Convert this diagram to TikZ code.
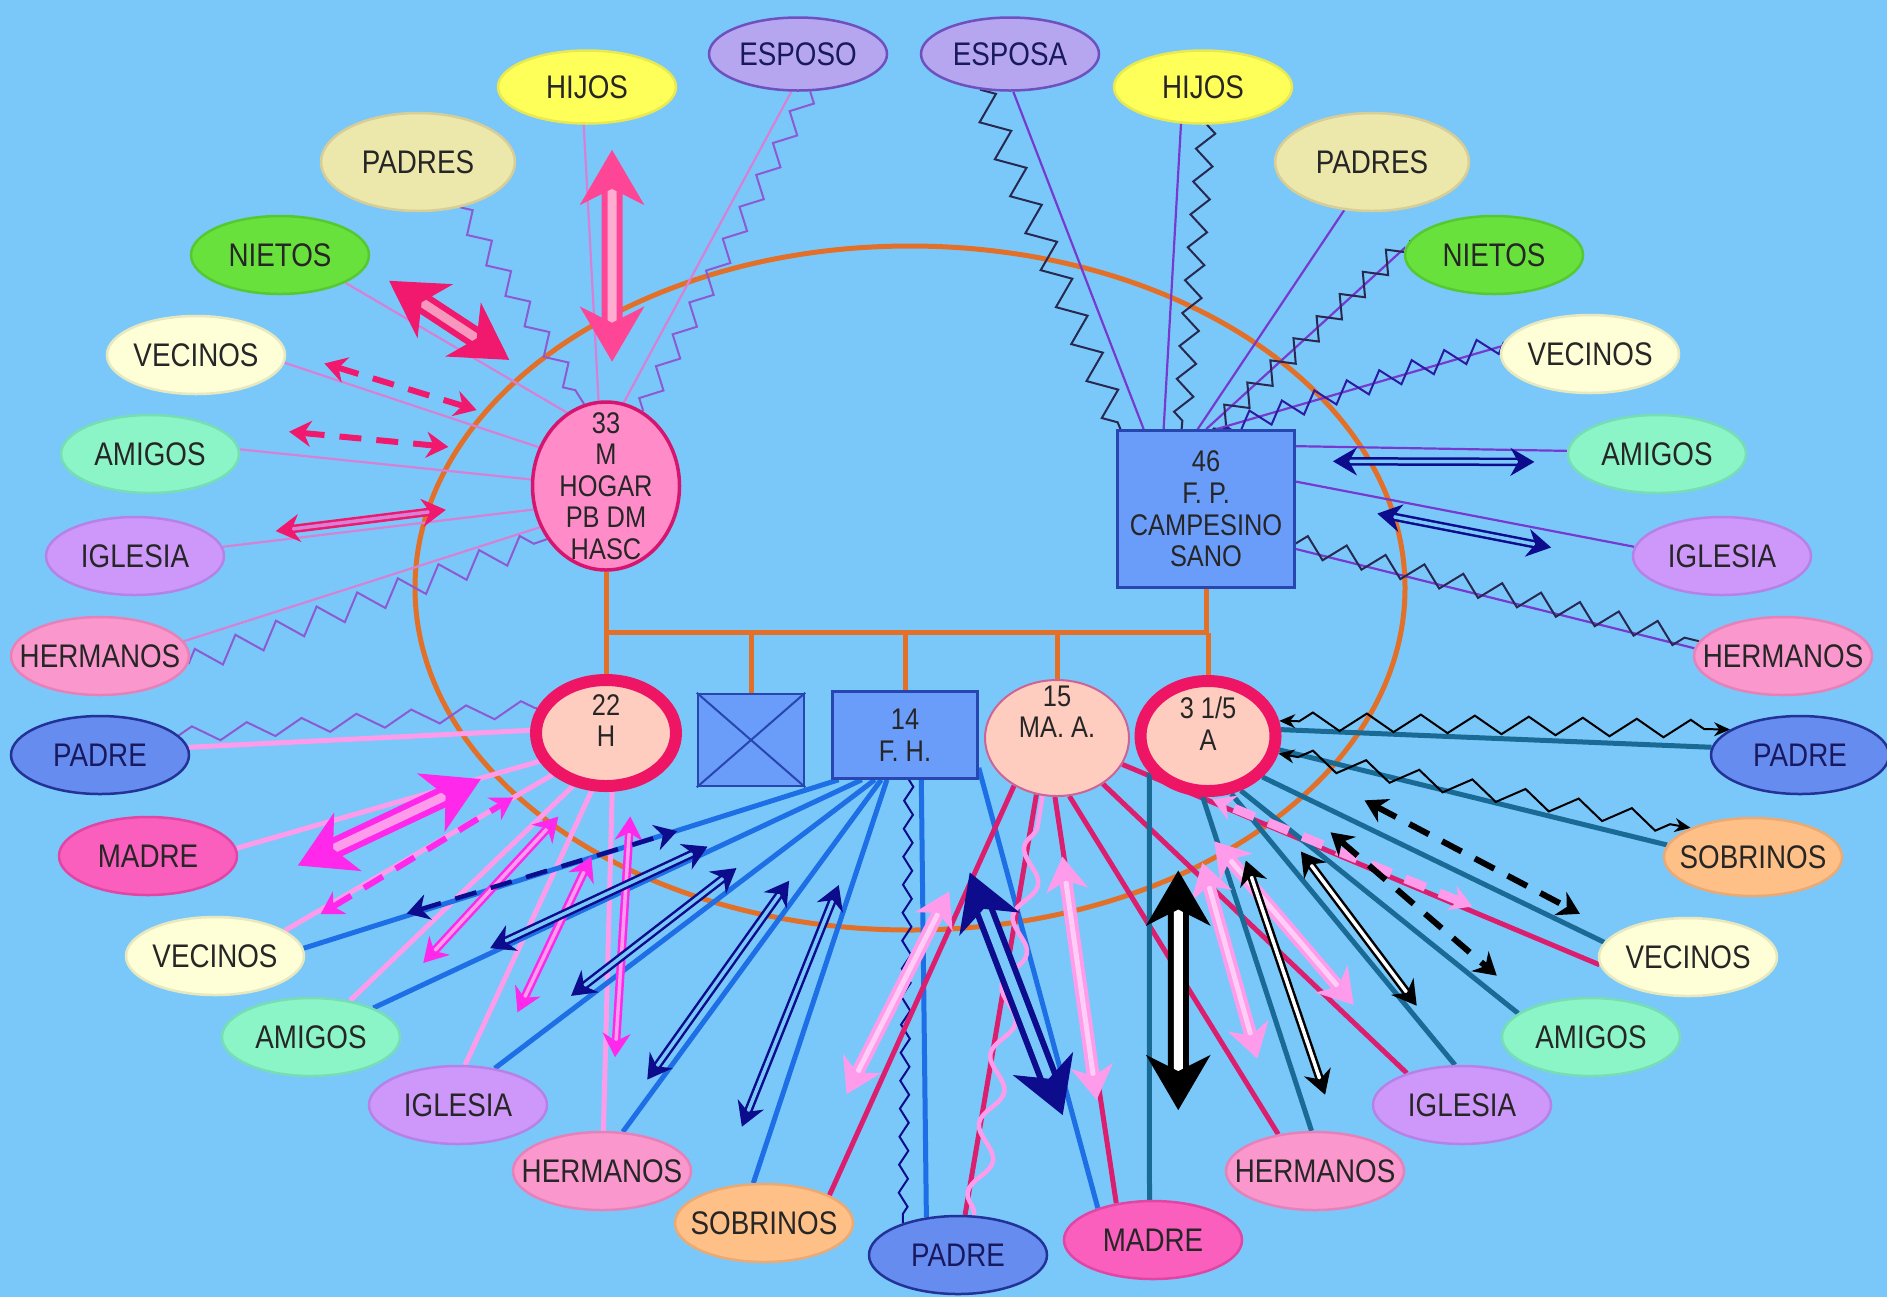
\documentclass[tikz,border=0pt]{standalone}
\usepackage{fontspec}
\usetikzlibrary{shapes.geometric,arrows.meta,calc,decorations.pathmorphing}
\newfontfamily\lbl{Liberation Sans}[FakeStretch=0.85]

\pgfdeclarelayer{fondo}
\pgfdeclarelayer{lazos}
\pgfsetlayers{fondo,lazos,main}

\definecolor{fondoC}{RGB}{122,200,250}
\definecolor{anillo}{RGB}{226,112,40}
\definecolor{azulT}{RGB}{25,25,95}
\definecolor{cEsp}{RGB}{182,166,240}\definecolor{cEspB}{RGB}{110,80,190}
\definecolor{cHij}{RGB}{255,255,90}\definecolor{cHijB}{RGB}{232,232,80}
\definecolor{cPad}{RGB}{236,231,170}\definecolor{cPadB}{RGB}{215,205,150}
\definecolor{cNie}{RGB}{105,225,60}\definecolor{cNieB}{RGB}{85,200,50}
\definecolor{cVec}{RGB}{255,255,215}\definecolor{cVecB}{RGB}{232,232,190}
\definecolor{cAmi}{RGB}{140,245,200}\definecolor{cAmiB}{RGB}{118,222,180}
\definecolor{cIgl}{RGB}{206,152,250}\definecolor{cIglB}{RGB}{182,130,232}
\definecolor{cHer}{RGB}{250,152,205}\definecolor{cHerB}{RGB}{230,130,185}
\definecolor{cPdr}{RGB}{102,140,240}\definecolor{cPdrB}{RGB}{35,50,150}
\definecolor{cMad}{RGB}{250,95,190}\definecolor{cMadB}{RGB}{225,70,165}
\definecolor{cSob}{RGB}{255,192,135}\definecolor{cSobB}{RGB}{235,170,115}
\definecolor{cCaja}{RGB}{106,156,249}\definecolor{cCajaB}{RGB}{40,70,175}
\definecolor{cRosa}{RGB}{255,140,200}\definecolor{cRosaB}{RGB}{215,20,110}
\definecolor{cPiel}{RGB}{255,205,192}\definecolor{cPielB}{RGB}{205,100,150}
\definecolor{cRojo}{RGB}{238,22,100}
\definecolor{l33}{RGB}{214,128,214}
\definecolor{z33}{RGB}{140,90,210}
\definecolor{f33}{RGB}{240,25,110}
\definecolor{f33h}{RGB}{255,70,150}
\definecolor{l46}{RGB}{118,58,208}
\definecolor{z46}{RGB}{40,40,80}
\definecolor{azulO}{RGB}{12,12,140}
\definecolor{l22}{RGB}{255,155,235}
\definecolor{f22}{RGB}{255,40,235}
\definecolor{l14}{RGB}{30,110,230}
\definecolor{l15}{RGB}{220,30,110}
\definecolor{f15}{RGB}{255,155,235}
\definecolor{l31}{RGB}{26,106,150}

\begin{document}
\begin{tikzpicture}[x=0.1mm,y=-0.1mm]
        \tikzstyle{ent}=[ellipse, minimum width=17.8mm, minimum height=7.8mm, inner xsep=-3mm, inner ysep=0pt, line width=0.25mm, text=black!85, font=\lbl\fontsize{9.3}{10}\selectfont]
        \tikzstyle{esposo}=[ent, fill=cEsp, draw=cEspB, text=azulT, minimum height=7.3mm]
        \tikzstyle{hijos}=[ent, fill=cHij, draw=cHijB, minimum height=7.3mm]
        \tikzstyle{padres}=[ent, fill=cPad, draw=cPadB, minimum width=19.4mm, minimum height=9.8mm]
        \tikzstyle{nietos}=[ent, fill=cNie, draw=cNieB]
        \tikzstyle{vecinos}=[ent, fill=cVec, draw=cVecB]
        \tikzstyle{amigos}=[ent, fill=cAmi, draw=cAmiB]
        \tikzstyle{iglesia}=[ent, fill=cIgl, draw=cIglB]
        \tikzstyle{hermanos}=[ent, fill=cHer, draw=cHerB]
        \tikzstyle{padre}=[ent, fill=cPdr, draw=cPdrB, text=azulT]
        \tikzstyle{madre}=[ent, fill=cMad, draw=cMadB]
        \tikzstyle{sobrinos}=[ent, fill=cSob, draw=cSobB]
        \tikzstyle{centro}=[inner sep=0pt, align=center, text=black!85, font=\lbl\fontsize{8.5}{9}\selectfont]
        \tikzstyle{hijoR}=[centro, ellipse, minimum width=14mm, minimum height=10.6mm, inner ysep=-2.5mm, fill=cPiel, draw=cRojo, line width=1.2mm]
        \tikzstyle{caja}=[centro, rectangle, fill=cCaja, draw=cCajaB, line width=0.25mm]
        \tikzstyle{arbol}=[anillo, line width=0.5mm]
        \tikzstyle{lazo}=[line width=0.22mm]
        \tikzstyle{lazoG}=[line width=0.5mm]
        \tikzstyle{zig}=[line width=0.2mm, decorate, decoration={zigzag, amplitude=0.9mm, segment length=3.6mm}]
        \tikzstyle{zigF}=[black, line width=0.2mm, decorate, decoration={zigzag, amplitude=0.9mm, segment length=5.4mm, pre length=2mm, post length=2mm}, {Stealth[length=1.6mm,width=1.4mm]}-{Stealth[length=1.6mm,width=1.4mm]}]
        \tikzstyle{onda}=[line width=0.45mm, decorate, decoration={snake, amplitude=1mm, segment length=7mm}]
        \tikzstyle{flecha}=[line width=0.25mm, double distance=0.35mm, {Stealth[length=2.4mm,width=2.8mm]}-{Stealth[length=2.4mm,width=2.8mm]}]
        \tikzstyle{flechaM}=[line width=0.4mm, double distance=0.5mm, {Stealth[length=3.4mm,width=4.2mm,inset=1mm]}-{Stealth[length=3.4mm,width=4.2mm,inset=1mm]}]
        \tikzstyle{flechaG}=[line width=0.6mm, double distance=0.9mm, {Stealth[length=5.5mm,width=6.4mm,inset=1.6mm]}-{Stealth[length=5.5mm,width=6.4mm,inset=1.6mm]}]
        \tikzstyle{rayas}=[line width=0.6mm, dash pattern=on 2.2mm off 1.5mm, {Stealth[length=2.2mm,width=2.6mm]}-{Stealth[length=2.2mm,width=2.6mm]}]

        \useasboundingbox (0,0) rectangle (1887,1297);

        % Familia
        \node[centro, ellipse, minimum width=14.7mm, minimum height=16.8mm, inner xsep=-2mm, inner ysep=-4mm, fill=cRosa, draw=cRosaB, line width=0.35mm] (n33) at (606,486) {33\\M\\HOGAR\\PB DM\\HASC};
        \node[caja, minimum width=17.7mm, minimum height=15.7mm] (n46) at (1206,509) {46\\F. P.\\CAMPESINO\\SANO};
        \node[hijoR] (n22) at (606,733) {22\\H\\[-2pt]\mbox{}};
        \node[caja, minimum width=10.6mm, minimum height=9.2mm] (nx) at (751,740) {};
        \draw[cCajaB, line width=0.2mm] (nx.north west) -- (nx.south east) (nx.north east) -- (nx.south west);
        \node[caja, minimum width=14.5mm, minimum height=8.7mm] (n14) at (905,735) {14\\F. H.};
        \node[centro, ellipse, minimum width=14.4mm, minimum height=11.6mm, inner ysep=-2.5mm, fill=cPiel, draw=cPielB, line width=0.2mm] (n15) at (1057,738) {15\\MA. A.\\[6pt]\mbox{}};
        \node[hijoR, minimum width=13.5mm, minimum height=11mm] (n31) at (1208,736) {3 1/5\\A\\[-2pt]\mbox{}};

        % 33
        \node[esposo] (eso) at (798,54) {ESPOSO};
        \node[hijos] (hijo1) at (587,87) {HIJOS};
        \node[padres] (padres1) at (418,162) {PADRES};
        \node[nietos] (nietos1) at (280,255) {NIETOS};
        \node[vecinos] (vec1) at (196,355) {VECINOS};
        \node[amigos] (ami1) at (150,454) {AMIGOS};
        \node[iglesia] (igl1) at (135,556) {IGLESIA};
        \node[hermanos] (her1) at (100,656) {HERMANOS};

        % 46
        \node[esposo] (esa) at (1010,54) {ESPOSA};
        \node[hijos] (hijo2) at (1203,87) {HIJOS};
        \node[padres] (padres2) at (1372,162) {PADRES};
        \node[nietos] (nietos2) at (1494,255) {NIETOS};
        \node[vecinos] (vec2) at (1590,354) {VECINOS};
        \node[amigos] (ami2) at (1657,454) {AMIGOS};
        \node[iglesia] (igl2) at (1722,556) {IGLESIA};
        \node[hermanos] (her2) at (1783,656) {HERMANOS};

        % Hijos
        \node[padre] (padreH) at (100,755) {PADRE};
        \node[madre] (madreH) at (148,856) {MADRE};
        \node[vecinos] (vecH) at (215,956) {VECINOS};
        \node[amigos] (amiH) at (311,1037) {AMIGOS};
        \node[iglesia] (iglH) at (458,1105) {IGLESIA};
        \node[hermanos] (herH) at (602,1171) {HERMANOS};
        \node[sobrinos] (sob) at (764,1223) {SOBRINOS};
        \node[padre] (padreB) at (958,1255) {PADRE};
        \node[madre] (madreB) at (1153,1240) {MADRE};
        \node[hermanos] (herA) at (1315,1171) {HERMANOS};
        \node[iglesia] (iglA) at (1462,1105) {IGLESIA};
        \node[amigos] (amiA) at (1591,1037) {AMIGOS};
        \node[vecinos] (vecA) at (1688,957) {VECINOS};
        \node[sobrinos] (sobA) at (1753,857) {SOBRINOS};
        \node[padre] (padreA) at (1800,755) {PADRE};

        \begin{pgfonlayer}{fondo}
            \fill[fondoC] (0,0) rectangle (1887,1297);
            \draw[arbol] (910,588) ellipse [x radius=49.5mm, y radius=34.2mm];
            \draw[arbol] (n33.south) -- ++(0,61) coordinate (barra) -| (n46.south);
            \foreach \h in {n22,nx,n14,n15,n31}
                \draw[arbol] (\h.north) -- (\h.north |- barra);
        \end{pgfonlayer}

        \begin{pgfonlayer}{lazos}
        % 33 -> red
        \draw[lazo, l33] (eso.-100) -- (n33.78);
        \draw[zig, z33] (eso.-72) -- (n33.64);
        \draw[lazo, l33] (hijo1.-95) -- (n33.95);
        \draw[zig, z33] (padres1.-47) -- (n33.105);
        \draw[lazo, l33] (nietos1.-23) -- (n33.118);
        \draw[lazo, l33] (vec1.-5) -- (n33.150);
        \draw[lazo, l33] (ami1.3) -- (n33.175);
        \draw[lazo, l33] (igl1.6) -- (n33.198);
        \draw[lazo, l33] (her1.10) -- (n33.212);
        \draw[zig, z33, decoration={zigzag, amplitude=1.2mm, segment length=4.3mm}] (her1.-5) -- (n33.222);

        \draw[flechaG, f33h, double=f33h!45!white] ($(hijo1)!.16!(n33)!2.2mm!90:(n33)$) -- ($(hijo1)!.69!(n33)!1.2mm!90:(n33)$);
        \draw[flechaG, f33, double=f33!45!white] ($(nietos1)!.26!(n33)!4.2mm!90:(n33)$) -- ($(nietos1)!.62!(n33)!4.7mm!90:(n33)$);
        \draw[rayas, f33] ($(vec1)!.29!(n33)!3.1mm!90:(n33)$) -- ($(vec1)!.66!(n33)!3.3mm!90:(n33)$);
        \draw[rayas, f33] ($(ami1)!.30!(n33)!3.2mm!90:(n33)$) -- ($(ami1)!.65!(n33)!2.8mm!90:(n33)$);
        \draw[flecha, f33, double=l33] ($(igl1)!.30!(n33)!0.4mm!90:(n33)$) -- ($(igl1)!.66!(n33)$);

        % 46 -> red
        \draw[lazo, l46] (esa.-85) -- (n46.128);
        \draw[zig, z46, decoration={zigzag, amplitude=1.3mm, segment length=4mm}] (esa.-130) -- (n46.137);
        \draw[lazo, l46] (hijo2.-121) -- (n46.118);
        \draw[zig, z46, decoration={zigzag, amplitude=0.9mm, segment length=3.3mm}] (hijo2.-84) -- (n46.107);
        \draw[lazo, l46] (padres2.-120) -- (n46.96);
        \draw[lazo, l46] (nietos2.175) -- (n46.90);
        \draw[zig, z46, decoration={zigzag, amplitude=1mm, segment length=3.2mm}] (nietos2.170) -- (n46.85);
        \draw[lazo, l46] (vec2.175) -- (n46.83);
        \draw[zig, azulO!70!l46, decoration={zigzag, amplitude=1mm, segment length=3.4mm}] (vec2.172) -- (n46.78);
        \draw[lazo, l46] (n46.35) -- (ami2.178);
        \draw[lazo, l46] (n46.17) -- (igl2.174);
        \draw[lazo, l46] (n46.-24) -- (her2.175);
        \draw[zig, z46, decoration={zigzag, amplitude=1mm, segment length=4mm}] (n46.-21) -- (her2.170);

        \draw[flecha, azulO, double=fondoC] ($(n46)!.29!(ami2)!3.2mm!90:(ami2)$) -- ($(n46)!.73!(ami2)!0.7mm!90:(ami2)$);
        \draw[flecha, azulO, double=fondoC] ($(n46)!.33!(igl2)!1.1mm!90:(igl2)$) -- ($(n46)!.67!(igl2)!0.7mm!-90:(igl2)$);

        % 22
        \draw[zig, z33, decoration={zigzag, amplitude=0.8mm, segment length=5.5mm}] (padreH.14) -- (n22.160);
        \draw[lazoG, l22] (padreH.5) -- (n22.178);
        \draw[lazoG, l22] (madreH.5) -- (n22.203);
        \draw[lazoG, l22] (vecH.20) -- (n22.218);
        \draw[lazoG, l22] (amiH.43) -- (n22.238);
        \draw[lazoG, l22] (iglH.80) -- (n22.256);
        \draw[lazoG, l22] (herH.88) -- (n22.276);

        % 14
        \draw[lazoG, l14] (vecH.5) -- (n14.214);
        \draw[lazoG, l14] (amiH.25) -- (n14.226);
        \draw[lazoG, l14] (iglH.45) -- (n14.236);
        \draw[lazoG, l14] (herH.62) -- (n14.242);
        \draw[lazoG, l14] (sob.105) -- (n14.248);
        \draw[lazoG, l14] (n14.-70) -- (padreB.130);
        \draw[zig, azulO, decoration={zigzag, amplitude=0.45mm, segment length=2.8mm}] (n14.-85) -- (padreB.150);
        \draw[lazoG, l14] (n14.-24) -- (madreB.150);

        % 15
        \draw[lazoG, l15] (sob.23) -- (n15.228);
        \draw[lazoG, l15] (padreB.80) -- (n15.250);
        \draw[onda, f15] (padreB.68) -- (n15.256);
        \draw[lazoG, l15] (madreB.135) -- (n15.268);
        \draw[lazoG, l15] (herA.135) -- (n15.-78);
        \draw[lazoG, l15] (iglA.150) -- (n15.-45);
        \draw[lazoG, l15] (vecA.185) -- (n15.-22);

        % 3 1/5
        \draw[lazoG, l31] (n31.5) -- (padreA.175);
        \draw[lazoG, l31] (n31.-11) -- (sobA.172);
        \draw[lazoG, l31] (n31.-37) -- (vecA.170);
        \draw[lazoG, l31] (n31.-59) -- (amiA.162);
        \draw[lazoG, l31] (n31.-68) -- (iglA.100);
        \draw[lazoG, l31] (n31.-95) -- (herA.95);
        \draw[lazoG, l31] (n31.212) -- (madreB.95);
        \draw[zigF] (n31.12) -- (padreA.160);
        \draw[zigF] (n31.-14) -- (sobA.155);

        % arrows 22
        \draw[flechaG, f22, double=l22] ($(madreH)!.30!(n22)!4.8mm!-90:(n22)$) -- ($(madreH)!.72!(n22)!1.2mm!-90:(n22)$);
        \draw[rayas, f22] ($(vecH)!.25!(n22)!1.6mm!-90:(n22)$) -- ($(vecH)!.75!(n22)!1mm!-90:(n22)$);
        \draw[flecha, f22, double=l22] ($(amiH)!.31!(n22)!2.9mm!-90:(n22)$) -- ($(amiH)!.78!(n22)!2.4mm!-90:(n22)$);
        \draw[flecha, f22, double=l22] ($(iglH)!.27!(n22)!2.1mm!-90:(n22)$) -- ($(iglH)!.70!(n22)!3.2mm!-90:(n22)$);
        \draw[flecha, f22, double=l22] ($(herH)!.26!(n22)!1.2mm!-90:(n22)$) -- ($(herH)!.81!(n22)!2.5mm!-90:(n22)$);

        % arrows 14
        \draw[rayas, azulO, line width=0.45mm] ($(vecH)!.27!(n14)!1.8mm!-90:(n14)$) -- ($(vecH)!.66!(n14)!2.2mm!-90:(n14)$);
        \draw[flecha, azulO, double=fondoC] ($(amiH)!.30!(n14)!0.2mm!-90:(n14)$) -- ($(amiH)!.66!(n14)!1mm!-90:(n14)$);
        \draw[flecha, azulO, double=fondoC] ($(iglH)!.27!(n14)!1.2mm!90:(n14)$) -- ($(iglH)!.63!(n14)!0.5mm!90:(n14)$);
        \draw[flecha, azulO, double=fondoC] ($(herH)!.19!(n14)!1.5mm!90:(n14)$) -- ($(herH)!.65!(n14)!1.2mm!90:(n14)$);
        \draw[flecha, azulO, double=fondoC] ($(sob)!.17!(n14)!4.8mm!90:(n14)$) -- ($(sob)!.68!(n14)!2.2mm!90:(n14)$);
        \draw[flechaG, azulO, double=fondoC] ($(n14)!.27!(madreB)!0.25mm!-90:(madreB)$) -- ($(n14)!.73!(madreB)!2.6mm!-90:(madreB)$);

        % arrows 15
        \draw[flechaM, f15, double=white!50!f15] ($(sob)!.27!(n15)!0.4mm!-90:(n15)$) -- ($(sob)!.67!(n15)!1.3mm!90:(n15)$);
        \draw[flechaM, f15, double=white!50!f15] ($(madreB)!.29!(n15)!2.9mm!90:(n15)$) -- ($(madreB)!.77!(n15)!1.7mm!90:(n15)$);
        \draw[flechaM, f15, double=white!50!f15] ($(herA)!.25!(n15)!0.8mm!-90:(n15)$) -- ($(herA)!.64!(n15)!6.1mm!-90:(n15)$);
        \draw[flechaM, f15, double=white!50!f15] ($(iglA)!.27!(n15)!0.15mm!-90:(n15)$) -- ($(iglA)!.66!(n15)!2.9mm!-90:(n15)$);
        \draw[rayas, f15, line width=0.9mm] ($(vecA)!.33!(n15)!2.3mm!90:(n15)$) -- ($(vecA)!.75!(n15)!0.7mm!90:(n15)$);

        % arrows 3 1/5
        \draw[rayas, black] ($(n31)!.32!(vecA)!0.7mm!90:(vecA)$) -- ($(n31)!.78!(vecA)!0.6mm!-90:(vecA)$);
        \draw[rayas, black] ($(n31)!.32!(amiA)$) -- ($(n31)!.77!(amiA)!1mm!-90:(amiA)$);
        \draw[flecha, black, double=white] ($(n31)!.33!(iglA)!1.1mm!90:(iglA)$) -- ($(n31)!.76!(iglA)!1.9mm!90:(iglA)$);
        \draw[flecha, black, double=white] ($(n31)!.29!(herA)!0.7mm!90:(herA)$) -- ($(n31)!.84!(herA)!2.8mm!90:(herA)$);
        \draw[flechaG, black, double=white] ($(n31)!.27!(madreB)!1.5mm!-90:(madreB)$) -- ($(n31)!.74!(madreB)!1.1mm!90:(madreB)$);
        \end{pgfonlayer}

    \end{tikzpicture}
\end{document}
